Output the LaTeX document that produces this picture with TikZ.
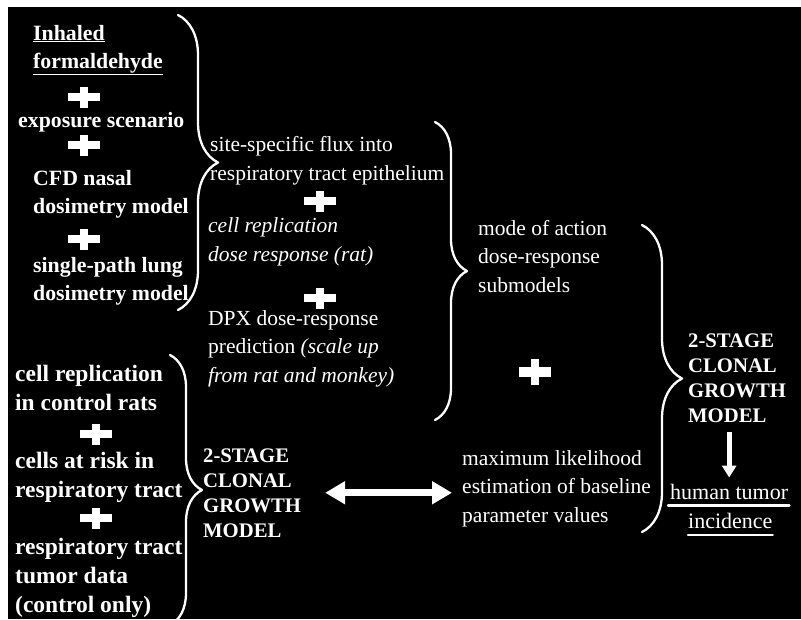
\documentclass[tikz,border=0pt]{standalone}
\usepackage{fontspec}
\setmainfont{Liberation Serif}
\usetikzlibrary{arrows.meta,decorations.pathreplacing}

\tikzset{
	txt/.style = {text = white, inner sep = 0pt, anchor = base west, align = left},
	leftbold/.style = {txt, font = \fontsize{21.8}{28}\selectfont\bfseries},
	lowbold/.style = {txt, font = \fontsize{23.5}{29}\selectfont\bfseries},
	plain/.style = {txt, font = \fontsize{21.5}{28.5}\selectfont},
	capsbold/.style = {txt, font = \fontsize{20.7}{25}\selectfont\bfseries},
	curly/.style = {draw = white, line width = 2.3pt, decorate,
		decoration = {brace, amplitude = #1}},
	dblarrow/.style = {draw = white, line width = 7pt, line cap = butt,
		{Triangle[width = 22pt, length = 20pt]}-{Triangle[width = 22pt, length = 20pt]}},
	downarrow/.style = {draw = white, line width = 5pt, line cap = butt,
		-{Triangle[width = 14pt, length = 12pt]}},
	uline/.style = {draw = white, line width = 2.5pt},
	plus/.pic = {
		\fill[white] (-16,-3.7) rectangle (16,3.7);
		\fill[white] (-3.9,-10.5) rectangle (3.9,10.5);
	}
}

\begin{document}
\begin{tikzpicture}[x = 1pt, y = -1pt, line join = round, line cap = round]
	\useasboundingbox (0,0) rectangle (801,619);
	\fill[black] (8,7) rectangle (801,619);
	% inputs on the left (positions are baselines of last lines)
	\node[leftbold] (inhaled) at (33,68) {\underline{Inhaled}\\\underline{formaldehyde}};
	\node[leftbold] (expo) at (18,127) {exposure scenario};
	\node[leftbold] (cfd) at (33,213) {CFD nasal\\dosimetry model};
	\node[leftbold] (lung) at (33,300) {single-path lung\\dosimetry model};
	\node[lowbold] (ctrl) at (15,410) {cell replication\\in control rats};
	\node[lowbold] (risk) at (15,497) {cells at risk in\\respiratory tract};
	\node[lowbold] (tumor) at (15,612) {respiratory tract\\tumor data\\(control only)};
	% middle column
	\node[plain] (flux) at (210,180) {site-specific flux into\\respiratory tract epithelium};
	\node[plain, font = \fontsize{21.5}{28.5}\selectfont\itshape] (crep) at (208,261)
		{cell replication\\dose response (rat)};
	\node[plain] (dpx) at (208,382)
		{DPX dose-response\\prediction \textit{(scale up}\\\textit{from rat and monkey)}};
	\node[capsbold] (midcgm) at (203,537) {2-STAGE\\CLONAL\\GROWTH\\MODEL};
	\node[plain] (moa) at (478,292) {mode of action\\dose-response\\submodels};
	\node[plain] (mle) at (462,522) {maximum likelihood\\estimation of baseline\\parameter values};
	% result on the right
	\node[capsbold] (rcgm) at (688,422) {2-STAGE\\CLONAL\\GROWTH\\MODEL};
	\node[plain, font = \fontsize{22}{28}\selectfont] (human) at (670,499) {human tumor};
	\node[plain, font = \fontsize{22}{28}\selectfont] (incid) at (688,528) {incidence};
	\draw[uline] ([shift = {(-2pt,-6.5pt)}]human.base west) -- ([shift = {(1pt,-6.5pt)}]human.base east);
	\draw[uline] ([shift = {(0pt,-7pt)}]incid.base west) -- ([shift = {(0pt,-7pt)}]incid.base east);
	% plus signs
	\foreach \px/\py in {84/97, 84/145, 84/239, 320/201, 320/298, 96/434, 96/518}
	\pic at (\px,\py) {plus};
	\pic[yscale = 1.25] at (535,372) {plus};
	% braces
	\path
	(178,15) coordinate (b1top)
	(178,310) coordinate (b1bot)
	(435,122) coordinate (b2top)
	(435,420) coordinate (b2bot)
	(642,225) coordinate (b3top)
	(642,532) coordinate (b3bot)
	(170,355) coordinate (b4top)
	(170,625) coordinate (b4bot)
	;
	\foreach \b/\amp in {b1/40, b2/32, b3/40, b4/32}
	\draw[curly = \amp pt] (\b top) -- (\b bot);
	% arrows
	\draw[dblarrow, shorten < = 24pt, shorten > = 10pt] (midcgm.east) -- (midcgm.east -| mle.west);
	\draw[downarrow, shorten < = 10pt, shorten > = 6pt] (rcgm.south -| human.north) -- (human.north);
\end{tikzpicture}
\end{document}
